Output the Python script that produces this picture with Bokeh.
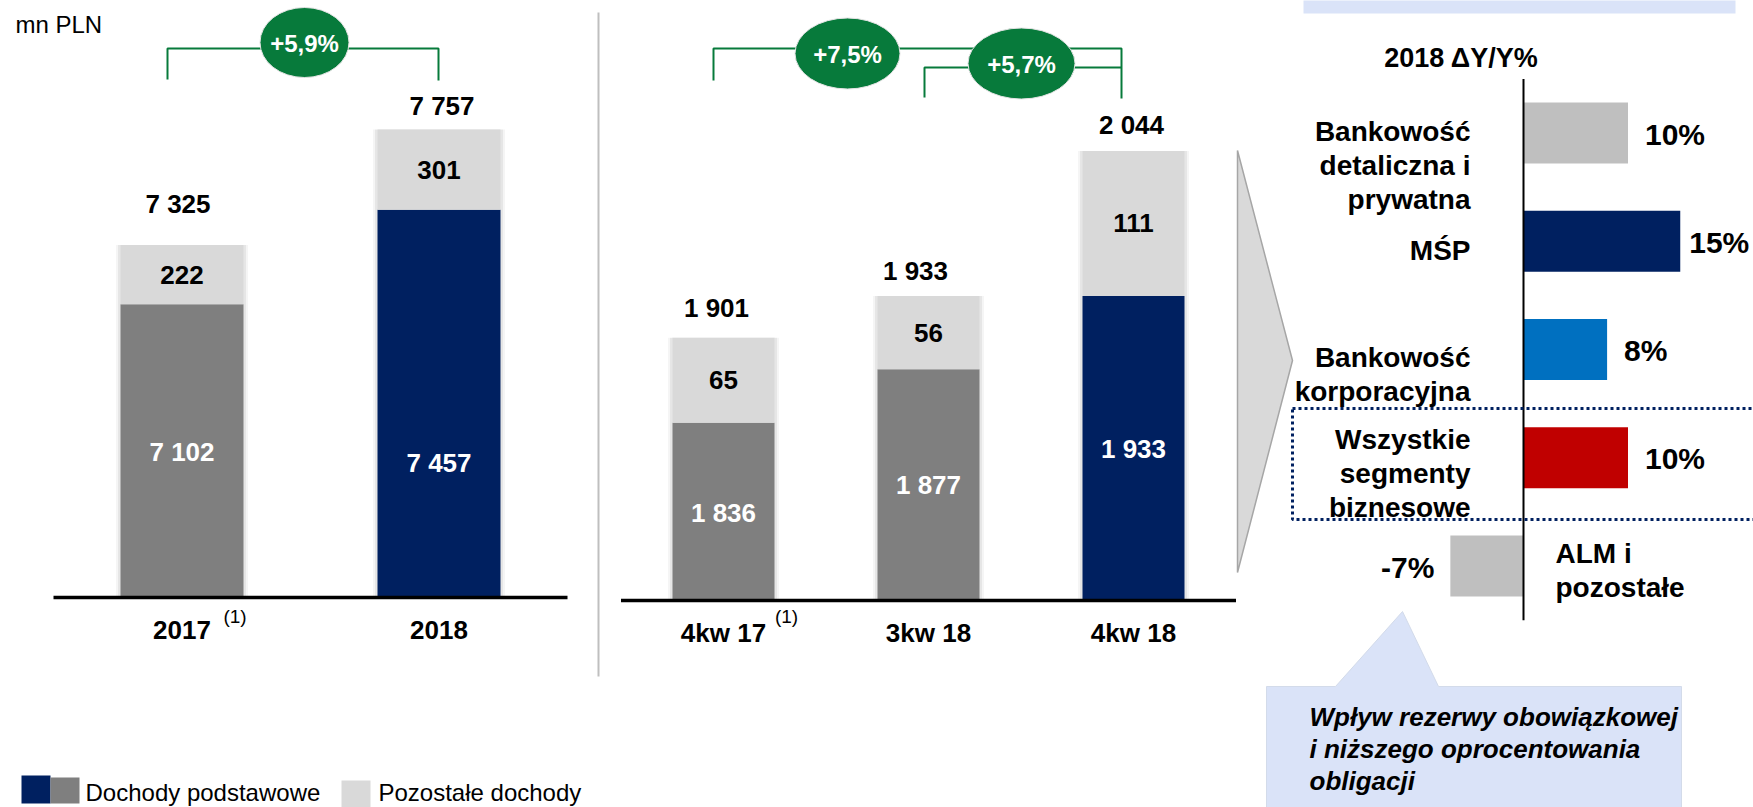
from bokeh.plotting import figure
from bokeh.models import Range1d, ColumnDataSource
from bokeh.core.properties import value
from bokeh.embed import file_html
from bokeh.resources import INLINE

# ---------------- data ----------------
unit_label = "mn PLN"

years = ["2017", "2018"]
year_notes = ["(1)", ""]
year_core = [7102, 7457]
year_other = [222, 301]
year_total = [7325, 7757]
year_growth = ["+5,9%"]

quarters = ["4kw 17", "3kw 18", "4kw 18"]
quarter_notes = ["(1)", "", ""]
quarter_core = [1836, 1877, 1933]
quarter_other = [65, 56, 111]
quarter_total = [1901, 1933, 2044]
quarter_growth = ["+7,5%", "+5,7%"]

segment_title = "2018 ΔY/Y%"
segments = ["Bankowość\ndetaliczna i\nprywatna", "MŚP", "Bankowość\nkorporacyjna",
            "Wszystkie\nsegmenty\nbiznesowe", "ALM i\npozostałe"]
segment_yoy = [10, 15, 8, 10, -7]

legend_labels = ["Dochody podstawowe", "Pozostałe dochody"]
callout_text = "Wpływ rezerwy obowiązkowej\ni niższego oprocentowania\nobligacji"

# ---------------- styles ----------------
NAVY = "#002060"
DGRAY = "#7F7F7F"
LGRAY = "#D9D9D9"
GREEN = "#077A3B"
SEG_COLORS = ["#BFBFBF", NAVY, "#0070C0", "#C00000", "#BFBFBF"]
PALE = "#DAE3F8"
FONT = value("Liberation Sans")


def fmt(v):
    return f"{v:,}".replace(",", " ")


# ---------------- canvas (reference pixel geometry) ----------------
W, H = 1753, 807
OX, OY = 0, 0
L, R, T, B = OX, OX + W, OY, OY + H

p = figure(width=W, height=H, x_range=Range1d(L, R), y_range=Range1d(B, T),
           x_axis_location=None, y_axis_location=None, toolbar_location=None,
           output_backend="svg", min_border=0, outline_line_color=None)
p.grid.visible = False


def lin_x(px0, ppu):
    return Range1d((L - px0) / ppu, (R - px0) / ppu)


def up_y(px0, v0, ppu):
    return Range1d(v0 - (B - px0) / ppu, v0 + (px0 - T) / ppu)


def down_y(px0, ppu):
    return Range1d((B - px0) / ppu, (T - px0) / ppu)


YEAR_FLOOR, Q_FLOOR = 6000, 1700
p.extra_x_ranges = {"xl": lin_x(181.5, 257.0), "xm": lin_x(723.0, 205.0),
                    "xs": lin_x(1523.0, 10.45)}
p.extra_y_ranges = {"yl": up_y(597.0, YEAR_FLOOR, 0.2662), "ym": up_y(600.0, Q_FLOOR, 1.307),
                    "ys": down_y(132.5, 108.25)}


def txt(d, xr=None, yr=None, **kw):
    src = ColumnDataSource(d)
    args = dict(x="x", y="y", text="text", x_offset="dx", y_offset="dy", source=src,
                text_font=FONT, text_baseline="middle", text_align="center")
    if xr:
        args["x_range_name"] = xr
    if yr:
        args["y_range_name"] = yr
    args.update(kw)
    return p.text(**args)


def lines_rows(xs, ys, labels, dxs, dys, lh):
    out = dict(x=[], y=[], text=[], dx=[], dy=[])
    for x, y, lab, dx, dy in zip(xs, ys, labels, dxs, dys):
        parts = lab.split("\n")
        k = len(parts)
        for i, s in enumerate(parts):
            out["x"].append(x)
            out["y"].append(y)
            out["text"].append(s)
            out["dx"].append(dx)
            out["dy"].append(dy + (i - (k - 1) / 2) * lh)
    return out


# ---------------- background shapes ----------------
p.quad(left=[1303], right=[1735], top=[-5], bottom=[13], fill_color=PALE, line_color=None)
p.patch(x=[1266, 1335, 1402, 1438, 1681, 1681, 1266], y=[686, 686, 611, 686, 686, 815, 815],
        fill_color=PALE, line_color="#D3DBEA", line_width=1)
p.patch(x=[1237, 1292, 1237], y=[150, 360, 572], fill_color=LGRAY, line_color="#A6A6A6",
        line_width=1.5)
p.segment(x0=[598], y0=[12], x1=[598], y1=[676], line_color="#BFBFBF", line_width=2)


# ---------------- stacked bar panels ----------------
def stacked_panel(xr, yr, cats, notes, core, other, total, floor, core_colors,
                  bar_px, spacing_px, total_dx, total_dy, core_dy, note_dx, note_dy):
    n = len(cats)
    xs = list(range(n))
    tops = [c + o for c, o in zip(core, other)]
    w = bar_px / spacing_px
    for extra, alpha in ((9, 0.04), (5, 0.06)):
        p.vbar(x=xs, width=(bar_px + extra) / spacing_px, bottom=floor, top=tops,
               fill_color="black", fill_alpha=alpha, line_color=None,
               x_range_name=xr, y_range_name=yr)
    p.vbar(x=xs, width=w, bottom=floor, top=core, fill_color=core_colors, line_color=None,
           x_range_name=xr, y_range_name=yr)
    p.vbar(x=xs, width=w, bottom=core, top=tops, fill_color=LGRAY, line_color=None,
           x_range_name=xr, y_range_name=yr)
    p.segment(x0=[-0.5], y0=[floor], x1=[n - 0.5], y1=[floor], line_color="black",
              line_width=3.5, x_range_name=xr, y_range_name=yr)
    bold = dict(text_font_size="26px", text_font_style="bold")
    txt(dict(x=xs, y=[c + o / 2 for c, o in zip(core, other)], text=[fmt(o) for o in other],
             dx=[0] * n, dy=[0] * n), xr, yr, text_color="black", **bold)
    txt(dict(x=xs, y=[(floor + c) / 2 for c in core], text=[fmt(c) for c in core],
             dx=[0] * n, dy=core_dy), xr, yr, text_color="white", **bold)
    txt(dict(x=xs, y=tops, text=[fmt(t) for t in total], dx=total_dx, dy=total_dy),
        xr, yr, text_color="black", **bold)
    txt(dict(x=xs, y=[floor] * n, text=cats, dx=[0] * n, dy=[32] * n),
        xr, yr, text_color="black", **bold)
    txt(dict(x=xs, y=[floor] * n, text=notes, dx=note_dx, dy=note_dy),
        xr, yr, text_color="black", text_font_size="19px")


stacked_panel("xl", "yl", years, year_notes, year_core, year_other, year_total, YEAR_FLOOR,
              [DGRAY, NAVY], 123, 257.0, [-4, 3], [-41, -24], [1, 59], [53, 0], [19, 0])
stacked_panel("xm", "ym", quarters, quarter_notes, quarter_core, quarter_other, quarter_total,
              Q_FLOOR, [DGRAY, DGRAY, NAVY], 102, 205.0, [-7, -13, -2], [-30, -25, -26],
              [1, 0, 1], [63, 0, 0], [16, 0, 0])

# growth brackets and badges
p.multi_line(xs=[[167, 167, 438, 438], [713, 713, 1121, 1121], [924, 924, 1121]],
             ys=[[79, 48, 48, 80], [80, 48, 48, 98], [97, 67, 67]],
             line_color=GREEN, line_width=2)
badge_x, badge_y = [304, 847, 1021], [42, 53, 63]
p.ellipse(x=badge_x, y=badge_y, width=[89, 105, 107], height=[70, 71, 71],
          fill_color=GREEN, line_color="#E3E3E3", line_width=1)
txt(dict(x=badge_x, y=badge_y, text=year_growth + quarter_growth, dx=[0] * 3, dy=[1] * 3),
    text_color="white", text_font_size="24px", text_font_style="bold")

# ---------------- segment bars ----------------
m = len(segments)
sy = list(range(m))
p.hbar(y=sy, left=[min(0, v) for v in segment_yoy], right=[max(0, v) for v in segment_yoy],
       height=61 / 108.25, fill_color=SEG_COLORS, line_color=None,
       x_range_name="xs", y_range_name="ys")
p.segment(x0=[0], y0=[-0.5], x1=[0], y1=[m - 0.5], line_color="black", line_width=2,
          x_range_name="xs", y_range_name="ys")
p.quad(left=[1292], right=[1765], top=[408], bottom=[519], fill_color=None,
       line_color=NAVY, line_width=3, line_dash="3 3")

val_dx = [17, 9, 17, 17, -16]
pos = [i for i, v in enumerate(segment_yoy) if v >= 0]
neg = [i for i, v in enumerate(segment_yoy) if v < 0]
vfont = dict(text_font_size="30px", text_font_style="bold", text_color="black")
txt(dict(x=[segment_yoy[i] for i in pos], y=pos, text=[f"{segment_yoy[i]}%" for i in pos],
         dx=[val_dx[i] for i in pos], dy=[1] * len(pos)), "xs", "ys", text_align="left", **vfont)
txt(dict(x=[segment_yoy[i] for i in neg], y=neg, text=[f"{segment_yoy[i]}%" for i in neg],
         dx=[val_dx[i] for i in neg], dy=[1] * len(neg)), "xs", "ys", text_align="right", **vfont)

lab_dy = [32, 9, 25, 16, 4]
sfont = dict(text_font_size="28px", text_font_style="bold", text_color="black")
txt(lines_rows([0] * len(pos), pos, [segments[i] for i in pos], [-53] * len(pos),
               [lab_dy[i] for i in pos], 34), "xs", "ys", text_align="right", **sfont)
txt(lines_rows([0] * len(neg), neg, [segments[i] for i in neg], [32] * len(neg),
               [lab_dy[i] for i in neg], 34), "xs", "ys", text_align="left", **sfont)

txt(dict(x=[1461], y=[57], text=[segment_title], dx=[0], dy=[0]),
    text_font_size="27px", text_font_style="bold", text_color="black")

# callout text
txt(lines_rows([1309], [748], [callout_text], [0], [0], 32), text_align="left",
    text_font_size="26px", text_font_style="bold italic", text_color="black")

# unit label
txt(dict(x=[15], y=[10], text=[unit_label], dx=[0], dy=[0]), text_align="left",
    text_baseline="top", text_font_size="24px", text_color="black")

# ---------------- legend ----------------
p.quad(left=[21, 50, 341], right=[50, 79, 370], top=[775, 777, 780], bottom=[803, 803, 807],
       fill_color=[NAVY, DGRAY, LGRAY], line_color=None)
txt(dict(x=[85, 378], y=[792, 792], text=legend_labels, dx=[0, 0], dy=[0, 0]),
    text_align="left", text_font_size="24px", text_color="black")

open("out.html", "w").write(file_html(p, INLINE))
